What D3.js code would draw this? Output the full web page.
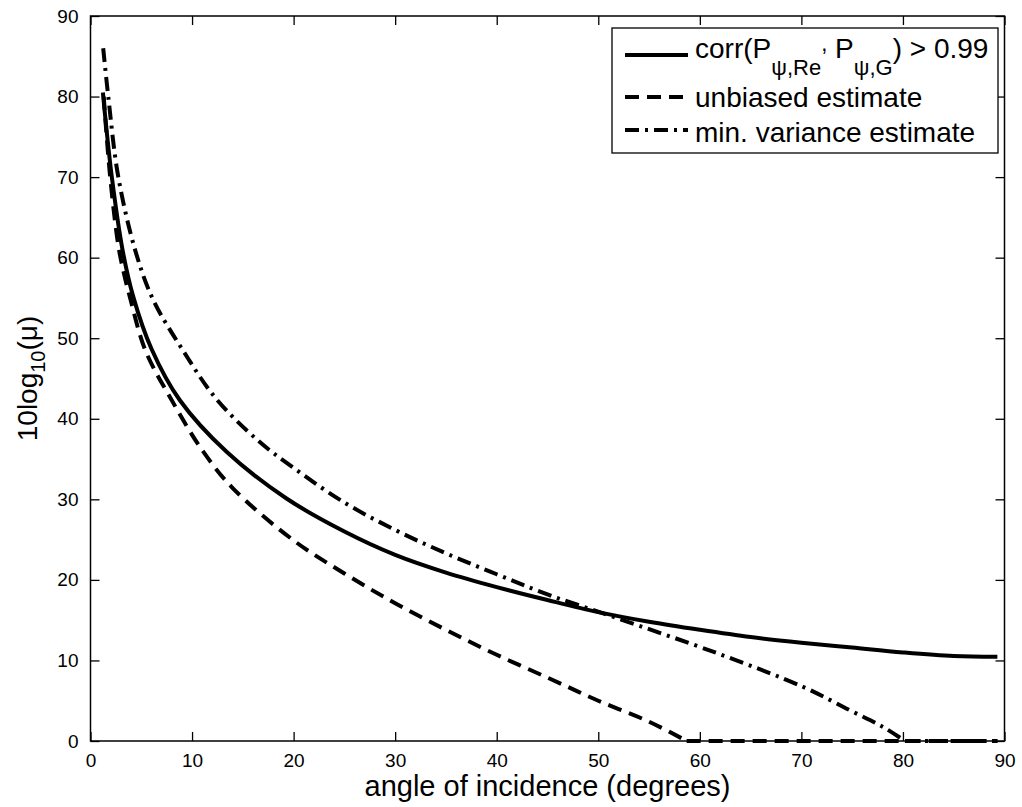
<!DOCTYPE html>
<html>
<head>
<meta charset="utf-8">
<script src="https://cdn.jsdelivr.net/npm/d3@7"></script>
<style>
  body { margin: 0; background: #fff; }
  svg text { font-family: "Liberation Sans", Arial, Helvetica, sans-serif; fill: #000; }
</style>
</head>
<body>
<svg id="chart" width="1022" height="807"></svg>
<script>
"use strict";

// axis ticks
const xTicks = [0, 10, 20, 30, 40, 50, 60, 70, 80, 90];
const yTicks = [0, 10, 20, 30, 40, 50, 60, 70, 80, 90];

// corr(P_psi,Re, P_psi,G) > 0.99  (solid)
const corrX = [1.22, 1.45, 2.1, 3.15, 4.2, 6.0, 8.8, 13.4, 19.3, 25, 30, 35, 40, 45, 50, 55, 60, 65, 70, 75, 80, 85, 89.3];
const corrY = [80.5, 77.5, 70, 61, 55.2, 48.7, 42.3, 35.9, 30.1, 26.0, 23.1, 20.9, 19.1, 17.5, 16.0, 14.8, 13.8, 12.9, 12.2, 11.6, 11.0, 10.55, 10.45];

// unbiased estimate (dashed)
const unbX = [1.3, 1.9, 2.74, 3.3, 3.9, 5.4, 8.0, 11.0, 14.0, 20, 25, 30, 35, 40, 45.3, 50, 55, 58.7, 70, 80, 89.3];
const unbY = [80, 70.5, 61.5, 58, 55, 48.5, 42.3, 36.1, 31.4, 24.9, 20.8, 17.1, 13.8, 10.7, 7.7, 5.0, 2.4, 0, 0, 0, 0];

// min. variance estimate (dash-dot)
const mvX = [1.25, 1.75, 2.74, 4.5, 6.2, 9.1, 12.3, 16.4, 20, 25, 30, 35, 40, 45, 51.5, 61.7, 70.2, 74.8, 78.1, 80.2, 85, 89.3];
const mvY = [86, 80, 70, 60.5, 54.7, 48.5, 42.6, 37.4, 33.9, 29.6, 26.2, 23.3, 20.7, 18.2, 15.4, 10.9, 6.7, 3.8, 1.7, 0, 0, 0];

const margin = {left: 90.5, top: 16, width: 914, height: 725};

const svg = d3.select("#chart");
const g = svg.append("g")
    .attr("transform", "translate(" + margin.left + "," + margin.top + ")");

const x = d3.scaleLinear().domain([0, 90]).range([0, margin.width]);
const y = d3.scaleLinear().domain([0, 90]).range([margin.height, 0]);

// axes with inward ticks on all four sides
const tickLen = 9;
const bottomAxis = g.append("g")
    .attr("transform", "translate(0," + margin.height + ")")
    .call(d3.axisBottom(x).tickValues(xTicks).tickSizeInner(-tickLen).tickSizeOuter(0));
bottomAxis.selectAll("text").attr("y", 26).attr("dy", 0).style("font-size", "19px");

const leftAxis = g.append("g")
    .call(d3.axisLeft(y).tickValues(yTicks).tickSizeInner(-tickLen).tickSizeOuter(0));
leftAxis.selectAll("text").attr("x", -12).style("font-size", "19px");

g.append("g")
    .call(d3.axisTop(x).tickValues(xTicks).tickSizeInner(-tickLen).tickSizeOuter(0).tickFormat(""));
g.append("g")
    .attr("transform", "translate(" + margin.width + ",0)")
    .call(d3.axisRight(y).tickValues(yTicks).tickSizeInner(-tickLen).tickSizeOuter(0).tickFormat(""));

g.selectAll(".domain").remove();
g.selectAll(".tick line").attr("stroke", "#000").attr("stroke-width", 1.3);

// frame
g.append("rect")
    .attr("x", 0).attr("y", 0)
    .attr("width", margin.width).attr("height", margin.height)
    .attr("fill", "none").attr("stroke", "#000").attr("stroke-width", 1.5);

// curves: smooth part down to the first zero, then a straight floor segment
const series = [
    {xs: corrX, ys: corrY, dash: null},
    {xs: unbX, ys: unbY, dash: "14,8"},
    {xs: mvX, ys: mvY, dash: "14,6,3,6"}
];

const smooth = d3.line()
    .x(d => x(d[0]))
    .y(d => y(d[1]))
    .curve(d3.curveCatmullRom.alpha(0.5));
const straight = d3.line()
    .x(d => x(d[0]))
    .y(d => y(d[1]));

series.forEach(s => {
    const pts = s.xs.map((v, i) => [v, s.ys[i]]);
    let cut = pts.findIndex(p => p[1] === 0);
    if (cut < 0) cut = pts.length - 1;
    const parts = [[pts.slice(0, cut + 1), smooth], [pts.slice(cut), straight]];
    parts.forEach(([seg, gen]) => {
        if (seg.length < 2) return;
        g.append("path")
            .datum(seg)
            .attr("d", gen)
            .attr("fill", "none")
            .attr("stroke", "#000")
            .attr("stroke-width", 4)
            .attr("stroke-dasharray", s.dash);
    });
});

// axis titles
svg.append("text")
    .attr("x", margin.left + margin.width / 2)
    .attr("y", 796)
    .attr("text-anchor", "middle")
    .style("font-size", "29px")
    .text("angle of incidence (degrees)");

const yl = svg.append("text")
    .attr("transform", "translate(37," + (margin.top + margin.height / 2) + ") rotate(-90)")
    .attr("text-anchor", "middle")
    .style("font-size", "28px");
yl.append("tspan").text("10log");
yl.append("tspan").attr("dy", 8).style("font-size", "20px").text("10");
yl.append("tspan").attr("dy", -8).text("(μ)");

// legend
const legend = svg.append("g");
legend.append("rect")
    .attr("x", 612).attr("y", 28)
    .attr("width", 386).attr("height", 125)
    .attr("fill", "#fff").attr("stroke", "#000").attr("stroke-width", 1.3);

const legendRows = [
    {y: 57.7, lineY: 55, dash: null},
    {y: 106.7, lineY: 97, dash: "14,8"},
    {y: 141.7, lineY: 130, dash: "14,6,3,6"}
];
legendRows.forEach(r => {
    legend.append("line")
        .attr("x1", 625).attr("x2", 688)
        .attr("y1", r.lineY).attr("y2", r.lineY)
        .attr("stroke", "#000").attr("stroke-width", 4)
        .attr("stroke-dasharray", r.dash);
});

const t1 = legend.append("text").attr("x", 695).attr("y", legendRows[0].y).style("font-size", "28px");
t1.append("tspan").text("corr(P");
t1.append("tspan").attr("dy", 17).style("font-size", "22px").text("ψ,Re");
t1.append("tspan").attr("dy", -24).style("font-size", "22px").text(",");
t1.append("tspan").attr("dy", 7).text(" P");
t1.append("tspan").attr("dy", 17).style("font-size", "22px").text("ψ,G");
t1.append("tspan").attr("dy", -17).text(") > 0.99");

legend.append("text").attr("x", 695).attr("y", legendRows[1].y)
    .style("font-size", "28px").text("unbiased estimate");
legend.append("text").attr("x", 695).attr("y", legendRows[2].y)
    .style("font-size", "28px").text("min. variance estimate");
</script>
</body>
</html>
